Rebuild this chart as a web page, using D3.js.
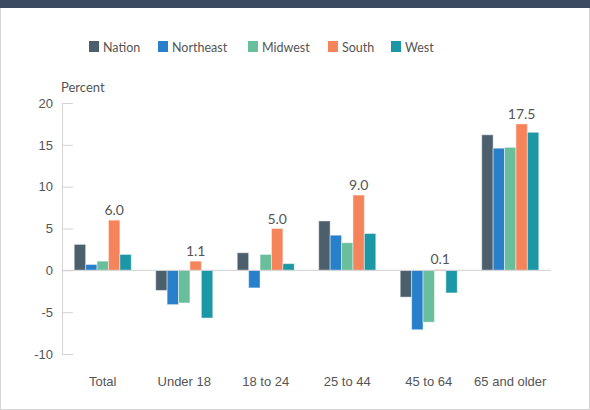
<!DOCTYPE html>
<html>
<head>
<meta charset="utf-8">
<script src="https://cdn.jsdelivr.net/npm/d3@7"></script>
<style>
  body { margin: 0; background: #fff; }
  svg { display: block; font-family: Lato, "Open Sans", sans-serif; }
</style>
</head>
<body>
<div id="chart"></div>
<script>
const categories = ["Total", "Under 18", "18 to 24", "25 to 44", "45 to 64", "65 and older"];
const regions = ["Nation", "Northeast", "Midwest", "South", "West"];
const nation = [3.1, -2.4, 2.1, 5.9, -3.2, 16.2];
const northeast = [0.7, -4.1, -2.1, 4.2, -7.1, 14.6];
const midwest = [1.1, -3.9, 1.9, 3.3, -6.2, 14.7];
const south = [6.0, 1.1, 5.0, 9.0, 0.1, 17.5];
const west = [1.9, -5.7, 0.8, 4.4, -2.7, 16.5];
const yTicks = [-10, -5, 0, 5, 10, 15, 20];

const colors = ["#4b5f6d", "#2780c9", "#69be9b", "#f6845a", "#1b97a6"];
const series = [nation, northeast, midwest, south, west];

const width = 590, height = 410;

// long table for the bars
const rows = [];
categories.forEach((c, i) => {
    regions.forEach((r, j) => rows.push({cat: c, region: r, value: series[j][i]}));
});

const svg = d3.select("#chart")
    .append("svg")
    .attr("width", width)
    .attr("height", height);

// page frame + top band
svg.append("rect")
    .attr("x", 0.5).attr("y", 0.5)
    .attr("width", width - 1).attr("height", height - 1)
    .attr("fill", "none").attr("stroke", "#d6d6d6");
svg.append("rect")
    .attr("x", 0).attr("y", 0)
    .attr("width", width).attr("height", 8)
    .attr("fill", "#3b4a61");

const x0 = d3.scaleBand()
    .domain(categories)
    .range([62, 551])
    .paddingInner(0.3)
    .paddingOuter(0.15);

const x1 = d3.scaleBand()
    .domain(regions)
    .range([0, x0.bandwidth()]);

const y = d3.scaleLinear()
    .domain([-10, 20])
    .range([354, 103]);

const color = d3.scaleOrdinal().domain(regions).range(colors);

// y axis
const yAxis = svg.append("g")
    .attr("transform", "translate(62,0)")
    .call(d3.axisRight(y).tickValues(yTicks).tickSize(11).tickFormat(d => String(d)));
yAxis.select(".domain").attr("stroke", "#d4d4d4");
yAxis.selectAll(".tick line").attr("stroke", "#d4d4d4");
yAxis.selectAll(".tick text")
    .attr("x", -9)
    .attr("text-anchor", "end")
    .attr("fill", "#555")
    .attr("font-size", 13);

svg.append("text")
    .attr("x", 61).attr("y", 92)
    .attr("fill", "#555")
    .attr("font-size", 13)
    .text("Percent");

// bars
svg.append("g")
    .selectAll("rect")
    .data(rows)
    .enter()
    .append("rect")
    .attr("x", d => x0(d.cat) + x1(d.region))
    .attr("y", d => y(Math.max(0, d.value)))
    .attr("width", x1.bandwidth())
    .attr("height", d => Math.abs(y(d.value) - y(0)))
    .attr("fill", d => color(d.region))
    .attr("stroke", "rgba(255,255,255,0.45)")
    .attr("stroke-width", 1);

// zero line
svg.append("line")
    .attr("x1", 62).attr("x2", 551)
    .attr("y1", y(0)).attr("y2", y(0))
    .attr("stroke", "#d0d0d0");

// labels on South bars
svg.append("g")
    .selectAll("text")
    .data(rows.filter(d => d.region === "South"))
    .enter()
    .append("text")
    .attr("x", d => x0(d.cat) + x1(d.region) + x1.bandwidth() / 2)
    .attr("y", d => y(d.value) - 5)
    .attr("text-anchor", "middle")
    .attr("fill", "#555")
    .attr("font-size", 14)
    .text(d => d.value.toFixed(1));

// x category labels
const xAxis = svg.append("g")
    .attr("transform", "translate(0,354)")
    .call(d3.axisBottom(x0).tickSize(0));
xAxis.select(".domain").remove();
xAxis.selectAll(".tick text")
    .attr("y", 23)
    .attr("fill", "#555")
    .attr("font-size", 13);

// legend
const legendX = [89, 158, 248, 328, 391];
const legend = svg.append("g")
    .selectAll("g")
    .data(regions)
    .enter()
    .append("g")
    .attr("transform", (d, i) => `translate(${legendX[i]},41)`);
legend.append("rect")
    .attr("width", 10).attr("height", 11)
    .attr("fill", d => color(d));
legend.append("text")
    .attr("x", 14).attr("y", 10.5)
    .attr("fill", "#555")
    .attr("font-size", 12.5)
    .text(d => d);
</script>
</body>
</html>
